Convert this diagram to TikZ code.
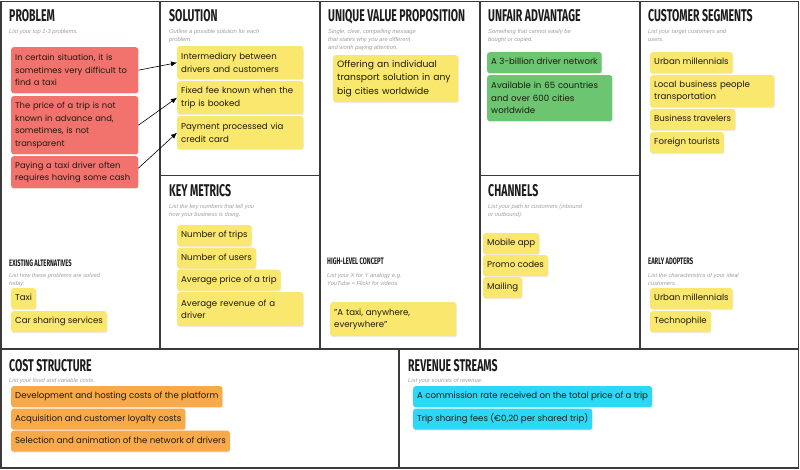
\documentclass[tikz,border=0pt]{standalone}
\usepackage{fontspec}
\setmainfont{Poppins}
\newfontfamily\titlefont[FakeStretch=0.62]{Fira Sans}
\newfontfamily\subfont{Liberation Sans}
\usetikzlibrary{arrows.meta,shadows}
\definecolor{gridc}{HTML}{3A3A3A}
\definecolor{titlec}{HTML}{1C1C1C}
\definecolor{subc}{HTML}{A0A0A0}
\definecolor{notetext}{HTML}{1E1A10}
\definecolor{redn}{HTML}{F2736E}
\definecolor{yellown}{HTML}{FAE76E}
\definecolor{greenn}{HTML}{6CC570}
\definecolor{orangen}{HTML}{F8AA4B}
\definecolor{cyann}{HTML}{2DD8F6}
\begin{document}
\begin{tikzpicture}[x=1pt,y=-1pt,
  gridline/.style={draw=gridc, line width=1.6pt},
  bigtitle/.style={anchor=base west, inner sep=0pt, text=titlec, font=\titlefont\bfseries\fontsize{17}{17}\selectfont},
  smalltitle/.style={anchor=base west, inner sep=0pt, text=titlec, font=\titlefont\bfseries\fontsize{9.4}{9.4}\selectfont},
  subtitle/.style={anchor=north west, inner sep=0pt, align=left, text=subc, font=\subfont\itshape\fontsize{5.8}{8}\selectfont},
  note/.style={anchor=north west, rounded corners=2.5pt, inner xsep=4pt, inner ysep=0pt, text=notetext,
    font=\fontsize{8.6}{12.5}\selectfont,
    drop shadow={shadow xshift=0.6pt, shadow yshift=-1pt, opacity=0.15}},
  onenote/.style={note, minimum height=21pt, text height=6.5pt, text depth=2pt},
  multinote/.style={note, align=left},
  pnote/.style={multinote, fill=redn, text width=119pt, font=\fontsize{8.35}{12.5}\selectfont},
  conn/.style={draw=black, line width=0.6pt, -{Latex[length=6pt,width=5pt]}}
]
\useasboundingbox (0,0) rectangle (800,470);
\fill[white] (0,0) rectangle (800,470);

% grid
\draw[gridline] (1,1.5) rectangle (798.5,468);
\draw[gridline] (160,1.5) -- (160,349);
\draw[gridline] (320,1.5) -- (320,349);
\draw[gridline] (480,1.5) -- (480,349);
\draw[gridline] (640,1.5) -- (640,349);
\draw[gridline] (1,349) -- (798.5,349);
\draw[gridline] (160,175.5) -- (320,175.5);
\draw[gridline] (480,175.5) -- (640,175.5);
\draw[gridline] (399,349) -- (399,468);

% titles
\node[bigtitle] (tp) at (9,22) {PROBLEM};
\node[bigtitle] (ts) at (169,22) {SOLUTION};
\node[bigtitle] (tu) at (328,22) {UNIQUE VALUE PROPOSITION};
\node[bigtitle] (ta) at (488,22) {UNFAIR ADVANTAGE};
\node[bigtitle] (tc) at (648,22) {CUSTOMER SEGMENTS};
\node[bigtitle] (tk) at (169,197) {KEY METRICS};
\node[bigtitle] (tch) at (488,197) {CHANNELS};
\node[bigtitle] (tco) at (9,371) {COST STRUCTURE};
\node[bigtitle] (tr) at (408,371) {REVENUE STREAMS};
\node[smalltitle] (te) at (9,266) {EXISTING ALTERNATIVES};
\node[smalltitle] (th) at (327,265) {HIGH-LEVEL CONCEPT};
\node[smalltitle] (tea) at (648,265) {EARLY ADOPTERS};

% subtitles
\node[subtitle] (s01) at (9,29) {List your top 1-3 problems.};
\node[subtitle] (s02) at (169,29) {Outline a possible solution for each\\problem.};
\node[subtitle] (s03) at (328,29) {Single, clear, compelling message\\that states why you are different\\and worth paying attention.};
\node[subtitle] (s04) at (488,29) {Something that cannot easily be\\bought or copied.};
\node[subtitle] (s05) at (648,29) {List your target customers and\\users.};
\node[subtitle] (s06) at (169,204) {List the key numbers that tell you\\how your business is doing.};
\node[subtitle] (s07) at (488,204) {List your path to customers (inbound\\or outbound).};
\node[subtitle] (s08) at (9,273) {List how these problems are solved\\today.};
\node[subtitle] (s09) at (327,273) {List your X for Y analogy e.g.\\YouTube = Flickr for videos.};
\node[subtitle] (s10) at (648,273) {List the characteristics of your ideal\\customers.};
\node[subtitle] (s11) at (9,378) {List your fixed and variable costs.};
\node[subtitle] (s12) at (408,378) {List your sources of revenue.};

% problem
\node[pnote, minimum height=46pt] (p1) at (11,47) {In certain situation, it is\\sometimes very difficult to\\find a taxi};
\node[pnote, minimum height=58pt] (p2) at (11,96) {The price of a trip is not\\known in advance and,\\sometimes, is not\\transparent};
\node[pnote, minimum height=32pt] (p3) at (11,156) {Paying a taxi driver often\\requires having some cash};

% solution
\node[multinote, fill=yellown, text width=118pt, minimum height=33pt] (so1) at (177,46) {Intermediary between\\drivers and customers};
\node[multinote, fill=yellown, text width=118pt, minimum height=33pt] (so2) at (177,81) {Fixed fee known when the\\trip is booked};
\node[multinote, fill=yellown, text width=118pt, minimum height=33pt] (so3) at (177,116) {Payment processed via\\credit card};

\draw[conn] (p1.east) -- (so1.west);
\draw[conn] (p2.east) -- (so2.west);
\draw[conn] ([yshift=4pt]p3.east) -- (so3.west);

% UVP
\node[multinote, fill=yellown, text width=117pt, minimum height=47pt, font=\fontsize{9.2}{13.5}\selectfont] (u1) at (333,55) {Offering an individual\\transport solution in any\\big cities worldwide};

% unfair advantage
\node[onenote, fill=greenn] (a1) at (487,52) {A 3-billion driver network};
\node[multinote, fill=greenn, text width=117pt, minimum height=46pt] (a2) at (487,75) {Available in 65 countries\\and over 600 cities\\worldwide};

% customer segments
\node[onenote, fill=yellown] (c1) at (650,52) {Urban millennials};
\node[multinote, fill=yellown, text width=116pt, minimum height=32pt] (c2) at (650,75) {Local business people\\transportation};
\node[onenote, fill=yellown] (c3) at (650,109) {Business travelers};
\node[onenote, fill=yellown] (c4) at (650,132) {Foreign tourists};

% existing alternatives
\node[onenote, fill=yellown] (e1) at (11,288) {Taxi};
\node[onenote, fill=yellown] (e2) at (11,311) {Car sharing services};

% key metrics
\node[onenote, fill=yellown] (k1) at (177,225) {Number of trips};
\node[onenote, fill=yellown] (k2) at (177,247.5) {Number of users};
\node[onenote, fill=yellown] (k3) at (177,269.5) {Average price of a trip};
\node[multinote, fill=yellown, text width=118pt, minimum height=34pt] (k4) at (177,292) {Average revenue of a\\driver};

% high-level concept
\node[multinote, fill=yellown, text width=118pt, minimum height=34pt] (h1) at (330,302) {"A taxi, anywhere,\\everywhere"};

% channels
\node[onenote, fill=yellown] (ch1) at (483,233) {Mobile app};
\node[onenote, fill=yellown] (ch2) at (483,255) {Promo codes};
\node[onenote, fill=yellown] (ch3) at (483,277) {Mailing};

% early adopters
\node[onenote, fill=yellown] (ea1) at (650,288) {Urban millennials};
\node[onenote, fill=yellown] (ea2) at (650,311) {Technophile};

% cost structure
\node[onenote, fill=orangen] (o1) at (11,386) {Development and hosting costs of the platform};
\node[onenote, fill=orangen] (o2) at (11,408.5) {Acquisition and customer loyalty costs};
\node[onenote, fill=orangen] (o3) at (11,430.5) {Selection and animation of the network of drivers};

% revenue streams
\node[onenote, fill=cyann] (r1) at (413,386) {A commission rate received on the total price of a trip};
\node[onenote, fill=cyann] (r2) at (413,408.5) {Trip sharing fees (€0,20 per shared trip)};
\end{tikzpicture}
\end{document}
